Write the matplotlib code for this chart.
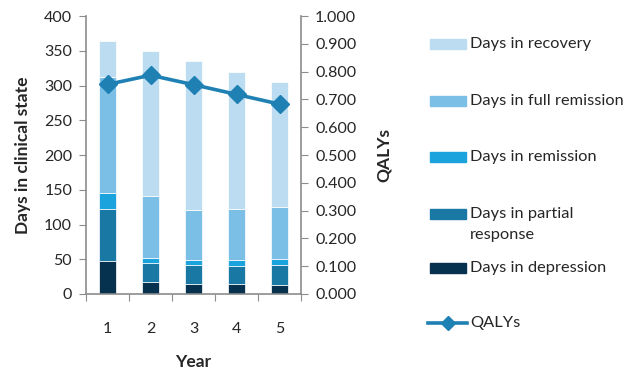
import matplotlib
matplotlib.use("Agg")
import matplotlib.pyplot as plt
from matplotlib.patches import Rectangle
from matplotlib.lines import Line2D
from matplotlib.ticker import FormatStrFormatter, MultipleLocator

plt.rcParams['font.family'] = ['Lato', 'DejaVu Sans']

years = [1, 2, 3, 4, 5]
depression = [48, 17, 15, 15, 13]
partial_response = [75, 28, 27, 26, 29]
remission = [22, 7, 7, 8, 9]
full_remission = [167, 89, 72, 73, 74]
recovery = [52, 209, 214, 197, 180]
qalys = [0.754, 0.787, 0.753, 0.718, 0.683]

states = [
    ("Days in depression", depression, "#06324f"),
    ("Days in partial\nresponse", partial_response, "#1a78a5"),
    ("Days in remission", remission, "#1ba3dd"),
    ("Days in full remission", full_remission, "#7bbfe7"),
    ("Days in recovery", recovery, "#bcdcf1"),
]
line_color = "#1f80b4"
axis_color = "#8c8c8c"
text_color = "#262626"
tick_fs = 11.5
legend_fs = 11.8
label_fs = 12.5

fig = plt.figure(figsize=(6.3, 3.73), dpi=100)
ax = fig.add_axes([0.1365, 0.2118, 0.3415, 0.7452])

bottom = [0] * len(years)
for label, vals, color in states:
    ax.bar(years, vals, width=0.39, bottom=bottom, color=color,
           edgecolor="white", linewidth=0.5)
    bottom = [b + v for b, v in zip(bottom, vals)]

ax.set_xlim(0.5, 5.5)
ax.set_ylim(0, 400)
ax.yaxis.set_major_locator(MultipleLocator(50))

# category separators as major ticks, year labels on minor ticks
ax.set_xticks([0.5, 1.5, 2.5, 3.5, 4.5, 5.5])
ax.set_xticklabels([])
ax.set_xticks(years, minor=True)
ax.set_xticklabels([str(y) for y in years], minor=True)
ax.tick_params(axis="x", which="major", length=5, color=axis_color, direction="out")
ax.tick_params(axis="x", which="minor", length=0, pad=20, labelsize=tick_fs, labelcolor=text_color)
ax.tick_params(axis="y", length=5, color=axis_color, labelsize=tick_fs, labelcolor=text_color, pad=5)

for side in ["top", "right"]:
    ax.spines[side].set_visible(False)
for side in ["left", "bottom"]:
    ax.spines[side].set_color(axis_color)
    ax.spines[side].set_linewidth(1.2)

ax.set_ylabel("Days in clinical state", fontsize=label_fs, fontweight="bold",
              color=text_color, labelpad=9)
ax.set_xlabel("Year", fontsize=label_fs, fontweight="bold", color=text_color, labelpad=13)

ax2 = ax.twinx()
ax2.plot(years, qalys, color=line_color, linewidth=2.6, marker="D", markersize=9)
ax2.set_ylim(0, 1.0)
ax2.yaxis.set_major_locator(MultipleLocator(0.1))
ax2.yaxis.set_major_formatter(FormatStrFormatter("%.3f"))
ax2.tick_params(axis="y", length=5, color=axis_color, labelsize=tick_fs, labelcolor=text_color, pad=5)
for side in ["top", "left", "bottom"]:
    ax2.spines[side].set_visible(False)
ax2.spines["right"].set_color(axis_color)
ax2.spines["right"].set_linewidth(1.2)
ax2.set_ylabel("QALYs", fontsize=label_fs, fontweight="bold", color=text_color, labelpad=14)

# legend drawn by hand on the right
W, H = 630.0, 373.0
entries = [
    ("Days in recovery", states[4][2], 44),
    ("Days in full remission", states[3][2], 101),
    ("Days in remission", states[2][2], 157),
    ("Days in partial", states[1][2], 214),
    ("Days in depression", states[0][2], 268),
]
for label, color, y in entries:
    fig.add_artist(Rectangle((430 / W, 1 - (y + 5) / H), 36 / W, 10 / H,
                             transform=fig.transFigure, color=color))
    fig.text(470 / W, 1 - y / H, label, fontsize=legend_fs, color=text_color,
             va="center", ha="left")
fig.text(470 / W, 1 - 235 / H, "response", fontsize=legend_fs, color=text_color,
         va="center", ha="left")

fig.add_artist(Line2D([428 / W, 467 / W], [1 - 323 / H, 1 - 323 / H],
                      transform=fig.transFigure, color=line_color, linewidth=2.6))
fig.add_artist(Line2D([447.5 / W], [1 - 323 / H], transform=fig.transFigure,
                      color=line_color, marker="D", markersize=7))
fig.text(470 / W, 1 - 323 / H, "QALYs", fontsize=legend_fs, color=text_color,
         va="center", ha="left")

fig.savefig("out.png", dpi=100)
